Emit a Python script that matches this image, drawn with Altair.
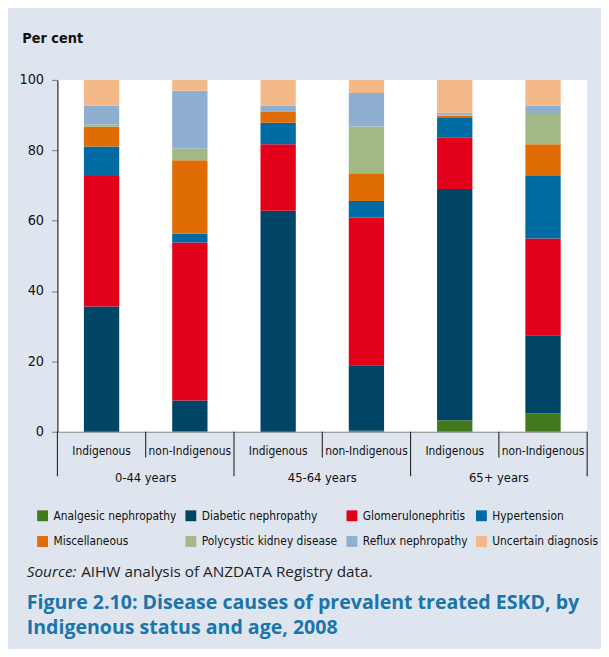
import altair as alt
import pandas as pd

age_groups = ["0-44 years", "45-64 years", "65+ years"]
statuses = ["Indigenous", "non-Indigenous"]
causes = ["Analgesic nephropathy", "Diabetic nephropathy", "Glomerulonephritis",
          "Hypertension", "Miscellaneous", "Polycystic kidney disease",
          "Reflux nephropathy", "Uncertain diagnosis"]
colors = ["#437a1e", "#004466", "#e2001a", "#006aa3",
          "#e06c06", "#a3b985", "#8eafcf", "#f3b887"]

# bar order: 0-44 Ind, 0-44 non, 45-64 Ind, 45-64 non, 65+ Ind, 65+ non
analgesic = [0.0, 0.1, 0.0, 0.3, 3.3, 5.2]
diabetic = [35.6, 8.8, 62.8, 18.6, 65.7, 22.2]
glomerulo = [37.1, 44.9, 18.9, 42.0, 14.6, 27.5]
hypertension = [8.4, 2.5, 6.1, 4.7, 5.6, 17.8]
miscellaneous = [5.6, 20.9, 3.1, 7.9, 0.7, 9.0]
polycystic = [0.6, 3.3, 0.3, 13.3, 0.2, 8.6]
reflux = [5.4, 16.4, 1.5, 9.5, 0.6, 2.4]
uncertain = [7.3, 3.1, 7.3, 3.7, 9.3, 7.3]

y_ticks = [0, 20, 40, 60, 80, 100]
y_title = "Per cent"
source_label = "Source:"
source_text = "AIHW analysis of ANZDATA Registry data."
fig_title = ["Figure 2.10: Disease causes of prevalent treated ESKD, by",
             "Indigenous status and age, 2008"]

series = [analgesic, diabetic, glomerulo, hypertension, miscellaneous,
          polycystic, reflux, uncertain]

bars = []
for a in age_groups:
    for s in statuses:
        bars.append({"age": a, "status": s, "bar": a + "|" + s})
bar_order = [b["bar"] for b in bars]

rows = []
for ci, (c, vals) in enumerate(zip(causes, series)):
    for bi, b in enumerate(bars):
        rows.append({"bar": b["bar"], "cause": c, "ci": ci, "value": vals[bi]})
df = pd.DataFrame(rows)
df_bars = pd.DataFrame(bars)

NARROW = "'Liberation Sans Narrow', 'DejaVu Sans Condensed', 'Roboto', sans-serif"
TITLEFONT = "'Open Sans', Lato, sans-serif"

xenc = dict(sort=bar_order,
            scale=alt.Scale(paddingInner=0, paddingOuter=0))

base_bars = alt.Chart(df).mark_bar(width=alt.RelativeBandSize(0.4)).encode(
    x=alt.X("bar:N", axis=alt.Axis(labels=False, ticks=False, title=None,
                                   domain=True, domainColor="#8a8a8a",
                                   domainWidth=1.2), **xenc),
    y=alt.Y("value:Q", stack="zero",
            scale=alt.Scale(domain=[0, 100], nice=False),
            axis=alt.Axis(values=y_ticks, title=y_title, titleAngle=0,
                          titleAlign="left", titleBaseline="middle",
                          titleX=-36, titleY=-42, titleFont=NARROW,
                          titleFontSize=14.5, titleFontWeight="bold",
                          titleColor="#111", grid=False,
                          domainColor="#222", domainWidth=1.2,
                          tickColor="#8a8a8a", tickSize=6, tickWidth=1.2,
                          labelFont=NARROW, labelFontSize=14.5,
                          labelColor="#111", labelPadding=8)),
    color=alt.Color("cause:N", scale=alt.Scale(domain=causes, range=colors),
                    legend=alt.Legend(orient="none", legendX=-21, legendY=435,
                                      direction="horizontal", padding=0,
                                      title=None, columns=4, symbolType="square",
                                      symbolSize=121, symbolStrokeWidth=0,
                                      labelFont=NARROW, labelFontSize=12,
                                      labelColor="#111", labelOffset=5,
                                      columnPadding=8, rowPadding=14,
                                      labelLimit=200)),
    order=alt.Order("ci:Q", sort="ascending"),
)

inner = alt.Chart(df_bars).mark_text(font=NARROW, fontSize=12, color="#111",
                                     baseline="middle").encode(
    x=alt.X("bar:N", **xenc), y=alt.value(375), text="status:N")

grp = alt.Chart(df_bars).transform_filter(
    alt.datum.status == statuses[1]).mark_text(
    font=NARROW, fontSize=13, color="#111", baseline="middle").encode(
    x=alt.X("bar:N", bandPosition=0, **xenc), y=alt.value(403), text="age:N")

short_div = alt.Chart(df_bars).transform_filter(
    alt.datum.status == statuses[1]).mark_rule(color="#222", strokeWidth=1.1).encode(
    x=alt.X("bar:N", bandPosition=0, **xenc), y=alt.value(356), y2=alt.value(382))

long_div = alt.Chart(df_bars).transform_filter(
    alt.datum.status == statuses[0]).mark_rule(color="#222", strokeWidth=1.1).encode(
    x=alt.X("bar:N", bandPosition=0, **xenc), y=alt.value(356), y2=alt.value(401))

end_div = alt.Chart(df_bars).transform_filter(
    alt.datum.bar == bar_order[-1]).mark_rule(color="#222", strokeWidth=1.1).encode(
    x=alt.X("bar:N", bandPosition=1, **xenc), y=alt.value(356), y2=alt.value(401))

one = pd.DataFrame({"k": [0]})
src1 = alt.Chart(one).mark_text(font=TITLEFONT, fontSize=15.5, fontStyle="italic",
                                color="#222", align="left", baseline="middle").encode(
    x=alt.value(-31), y=alt.value(498), text=alt.value(source_label))
src2 = alt.Chart(one).mark_text(font=TITLEFONT, fontSize=15.5,
                                color="#222", align="left", baseline="middle").encode(
    x=alt.value(24), y=alt.value(498), text=alt.value(source_text))
ttl = alt.Chart(one).mark_text(font=TITLEFONT, fontSize=19.8, fontWeight="bold",
                               color="#1b75ab", align="left", baseline="middle",
                               lineHeight=26).encode(
    x=alt.value(-31), y=alt.value(529), text=alt.value(fig_title))

chart = alt.layer(base_bars, inner, grp, short_div, long_div, end_div,
                  src1, src2, ttl).properties(
    width=536, height=356,
    autosize=alt.AutoSizeParams(type="none"),
    padding={"left": 50, "top": 69, "right": 14, "bottom": 216},
    background="#dfe5ef",
).configure_view(fill="white", stroke=None)

chart.save("out.html", embed_options={"renderer": "svg", "actions": False})
